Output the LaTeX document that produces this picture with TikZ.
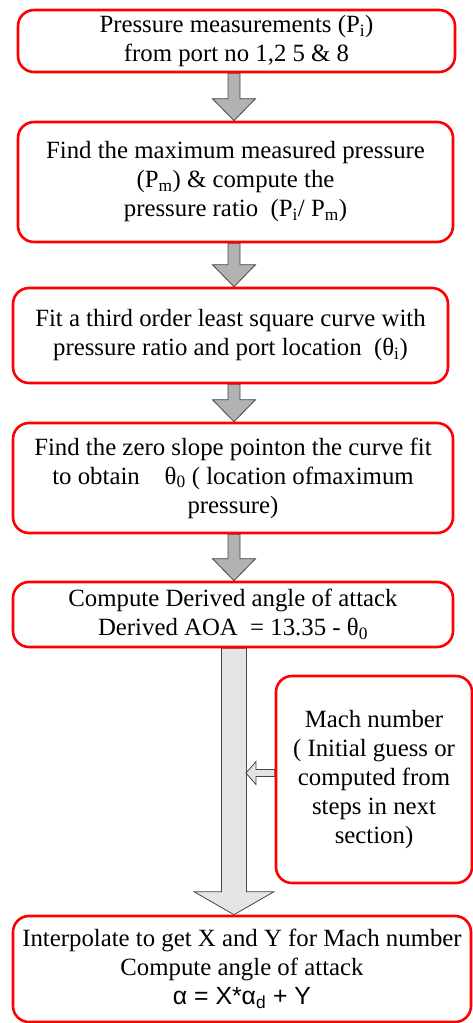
\documentclass[tikz,border=0pt]{standalone}
\usepackage{fontspec}
\setmainfont{Liberation Serif}
\newfontfamily\arialfont{Liberation Sans}
\usetikzlibrary{calc,backgrounds}
\definecolor{boxRed}{RGB}{255,0,0}
\definecolor{arrowFill}{RGB}{178,178,178}
\definecolor{shaftFill}{RGB}{228,228,228}
\definecolor{arrowLine}{RGB}{70,70,70}
\tikzset{
  stepBox/.style={draw=boxRed, line width=2.6pt, rounded corners=16pt, align=center,
    inner sep=0pt, font=\fontsize{24.8}{29}\selectfont},
  smallArrow/.style={fill=arrowFill, draw=arrowLine, line width=0.8pt},
  bigArrow/.style={fill=shaftFill, draw=arrowLine, line width=0.8pt},
}
% block arrow pointing down: style, from, to, half shaft, half head, head length
\newcommand{\pDownArrow}[6]{%
  \draw[#1] let \p1=(#2), \p2=(#3) in
    (\x1-#4,\y1) -- (\x1+#4,\y1) -- (\x1+#4,\y2+#6) -- (\x1+#5,\y2+#6)
    -- (\x1,\y2) -- (\x1-#5,\y2+#6) -- (\x1-#4,\y2+#6) -- cycle;}

\begin{document}
\begin{tikzpicture}[x=1pt,y=-1pt]
\clip (0,0) rectangle (473,1023);
\coordinate (axis) at (234,0);
\coordinate (machTip) at (246,773);
\node[stepBox, minimum width=437, minimum height=62] (b1) at (236.5,41)
  {Pressure measurements (P\textsubscript{i})\\from port no 1,2 5 \& 8};
\node[stepBox, minimum width=435, minimum height=120] (b2) at (235.5,182)
  {Find the maximum measured pressure\\(P\textsubscript{m}) \& compute the\\pressure ratio\ \ (P\textsubscript{i}/ P\textsubscript{m})};
\node[stepBox, minimum width=435, minimum height=95] (b3) at (230.5,335.5)
  {Fit a third order least square curve with\\pressure ratio and port location\ \ (θ\textsubscript{i})};
\node[stepBox, minimum width=440, minimum height=110] (b4) at (233,478)
  {Find the zero slope pointon the curve fit\\to obtain\quad θ\textsubscript{0} ( location ofmaximum\\pressure)};
\node[stepBox, minimum width=440, minimum height=65] (b5) at (233,614.5)
  {Compute Derived angle of attack\\Derived AOA\ \ = 13.35 - θ\textsubscript{0}};
\node[stepBox, minimum width=196, minimum height=207] (mach) at (374,779.5)
  {Mach number\\( Initial guess or\\computed from\\steps in next\\section)};
\node[stepBox, minimum width=458, minimum height=106] (b6) at (242,969)
  {Interpolate to get X and Y for Mach number\\Compute angle of attack\\{\arialfont α = X*α\textsubscript{d} + Y}};
\begin{scope}[on background layer]
\pDownArrow{smallArrow}{axis |- b1.south}{axis |- b2.north}{6pt}{21.5pt}{22pt}
\pDownArrow{smallArrow}{axis |- b2.south}{axis |- b3.north}{6pt}{21.5pt}{22pt}
\pDownArrow{smallArrow}{axis |- b3.south}{axis |- b4.north}{6pt}{21.5pt}{22pt}
\pDownArrow{smallArrow}{axis |- b4.south}{axis |- b5.north}{6pt}{21.5pt}{22pt}
\pDownArrow{bigArrow}{axis |- b5.south}{axis |- b6.north}{12.5pt}{40pt}{23pt}
\draw[bigArrow] let \p1=(mach.west |- machTip), \p2=(machTip) in
  (\x1,\y1+3.5pt) -- (\x2+10pt,\y1+3.5pt) -- (\x2+10pt,\y1+11.5pt) -- (\x2,\y1)
  -- (\x2+10pt,\y1-11.5pt) -- (\x2+10pt,\y1-3.5pt) -- (\x1,\y1-3.5pt) -- cycle;
\end{scope}
\end{tikzpicture}
\end{document}
